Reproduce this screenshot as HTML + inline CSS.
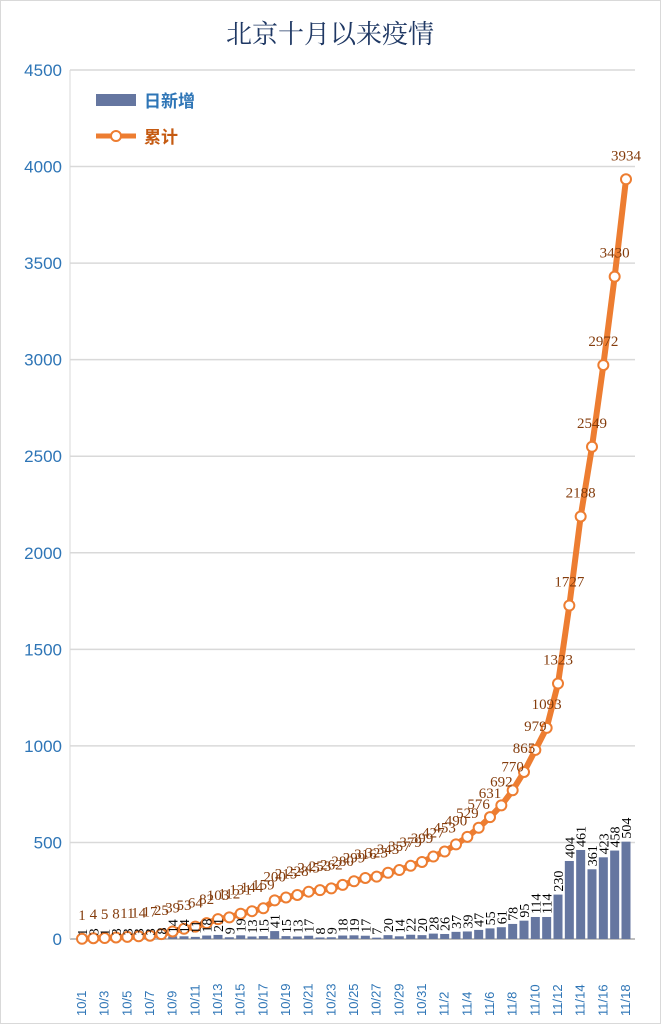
<!DOCTYPE html>
<html><head><meta charset="utf-8"><style>
body{margin:0;background:#fff}
svg{display:block}
</style></head><body>
<svg id="c" width="661" height="1024" xmlns="http://www.w3.org/2000/svg">
<rect x="0.5" y="0.5" width="660" height="1023" fill="#fff" stroke="#d9d9d9"/>
<text x="330" y="43" text-anchor="middle" font-family="'Liberation Serif','Noto Serif CJK SC',serif" font-size="26" fill="#1f3864">北京十月以来疫情</text>
<g id="grid"></g><g id="bars"></g><g id="line"></g><g id="labels"></g>
<g>
<rect x="96" y="94" width="40" height="12" fill="#6576a0"/>
<text x="144" y="107" font-family="'Liberation Sans','Noto Sans CJK SC',sans-serif" font-size="17" font-weight="bold" fill="#2e75b6">日新增</text>
<line x1="96" y1="136" x2="136" y2="136" stroke="#ed7d31" stroke-width="5"/>
<circle cx="116" cy="136" r="5" fill="#fff" stroke="#ed7d31" stroke-width="2"/>
<text x="144" y="143" font-family="'Liberation Sans','Noto Sans CJK SC',sans-serif" font-size="17" font-weight="bold" fill="#c55a11">累计</text>
</g>
</svg>
<script>
const categories=["10/1","10/2","10/3","10/4","10/5","10/6","10/7","10/8","10/9","10/10","10/11","10/12","10/13","10/14","10/15","10/16","10/17","10/18","10/19","10/20","10/21","10/22","10/23","10/24","10/25","10/26","10/27","10/28","10/29","10/30","10/31","11/1","11/2","11/3","11/4","11/5","11/6","11/7","11/8","11/9","11/10","11/11","11/12","11/13","11/14","11/15","11/16","11/17","11/18"];
const daily=[1,3,1,3,3,3,3,8,14,14,11,18,21,9,19,13,15,41,15,13,17,8,9,18,19,17,7,20,14,22,20,28,26,37,39,47,55,61,78,95,114,114,230,404,461,361,423,458,504];
const cumulative=[1,4,5,8,11,14,17,25,39,53,64,82,103,112,131,144,159,200,215,228,245,253,262,280,299,316,323,343,357,379,399,427,453,490,529,576,631,692,770,865,979,1093,1323,1727,2188,2549,2972,3430,3934];
const yTicks=[0,500,1000,1500,2000,2500,3000,3500,4000,4500];
const NS="http://www.w3.org/2000/svg";
const y0=939,yTop=70,yMax=4500,xL=70,xR=635;
const y=v=>y0-(v/yMax)*(y0-yTop);
const step=(626-82)/(categories.length-1);
const x=i=>82+i*step;
function mk(tag,attrs,parent,txt){const e=document.createElementNS(NS,tag);for(const k in attrs)e.setAttribute(k,attrs[k]);if(txt!==undefined)e.textContent=txt;document.getElementById(parent).appendChild(e);return e;}
const F="'Liberation Serif','Noto Serif CJK SC',serif";
yTicks.forEach(t=>{
  const l=mk('line',{x1:xL,x2:xR,y1:y(t),y2:y(t),stroke:t===0?'#bfbfbf':'#d9d9d9','stroke-width':t===0?2:1.5},'grid');
  
  
  const tx=mk('text',{x:62,y:y(t)+6,'text-anchor':'end','font-family':"'Liberation Sans',sans-serif",'font-size':17,fill:'#2e75b6'},'grid',String(t));
  
  
});
mk('line',{x1:xL,x2:xL,y1:yTop,y2:y0,stroke:'#d9d9d9','stroke-width':1},'grid');
categories.forEach((c,i)=>{
  const b=mk('rect',{x:x(i)-4.5,y:y(daily[i]),width:9,height:y0-y(daily[i]),fill:'#6576a0'},'bars');
  
  
  const bl=mk('text',{transform:`translate(${x(i)+5},${y(daily[i])-3}) rotate(-90)`,'font-family':F,'font-size':14,fill:'#000'},'labels',String(daily[i]));
  
  
  if(i%2===0){
    const xl=mk('text',{transform:`translate(${x(i)+4},${1016}) rotate(-90)`,'font-family':"'Liberation Sans',sans-serif",'font-size':13,fill:'#2e75b6'},'labels',c);
    
    
  }
});
const pts=cumulative.map((v,i)=>x(i)+','+y(v)).join(' ');
const pl=mk('polyline',{points:pts,fill:'none',stroke:'#ed7d31','stroke-width':6,'stroke-linejoin':'round'},'line');


cumulative.forEach((v,i)=>{
  const c=mk('circle',{cx:x(i),cy:y(v),r:5,fill:'#fff',stroke:'#ed7d31','stroke-width':2},'line');
  
  
  const t=mk('text',{x:x(i),y:y(v)-19,'text-anchor':'middle','font-family':F,'font-size':15,fill:'#843c0c'},'labels',String(v));
  
  
});
</script>
</body></html>
